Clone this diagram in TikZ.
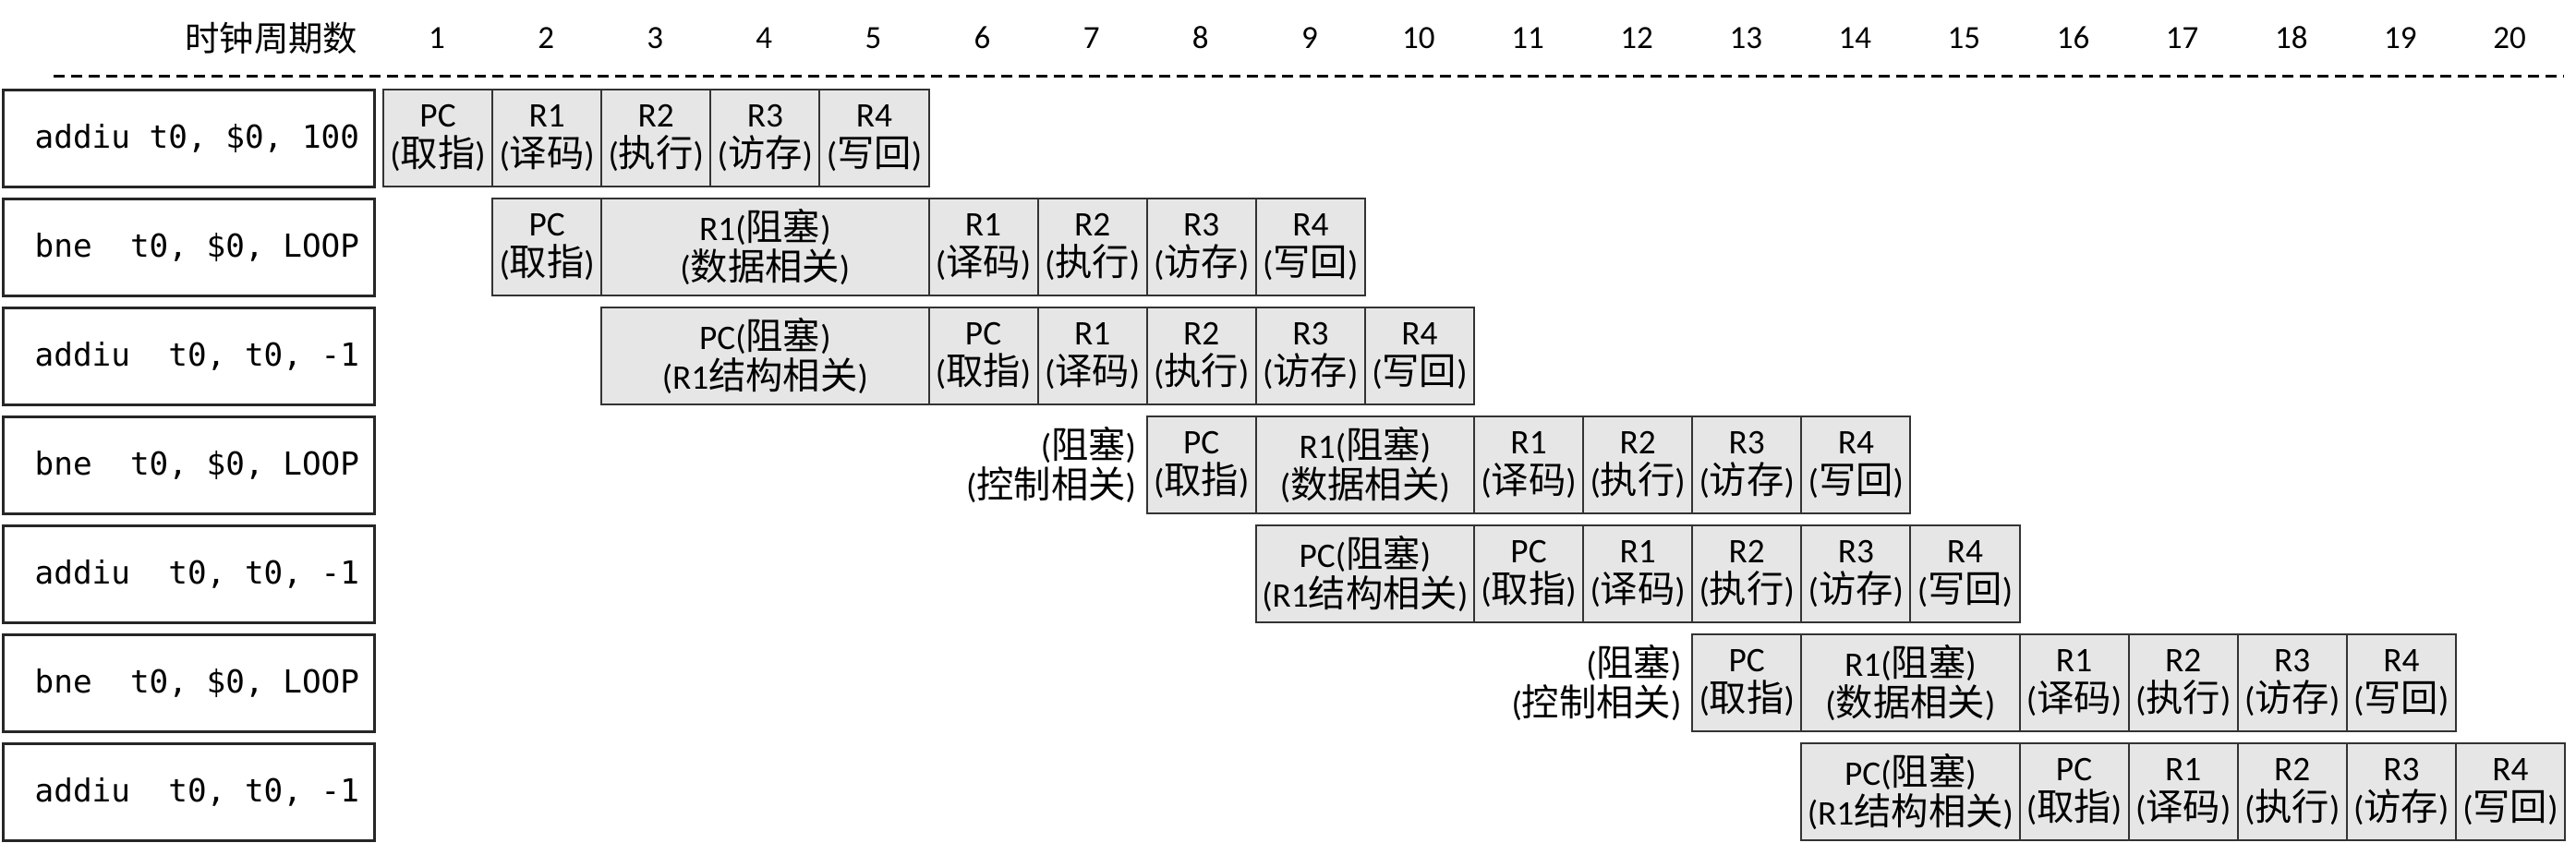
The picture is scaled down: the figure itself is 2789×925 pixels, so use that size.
\documentclass[tikz,border=0pt]{standalone}
\usepackage{fontspec}
\setmainfont{Carlito}
\setmonofont{DejaVu Sans Mono}
\newfontfamily\cjk[Scale=1.08]{Noto Sans CJK SC}
\newcommand\zh[1]{{\cjk #1}}
\definecolor{cellgray}{RGB}{231,230,230}
\tikzset{
  stagebox/.style={draw=black!80, line width=0.6pt, fill=cellgray, inner sep=0pt,
    minimum height=31.5pt, align=center, anchor=north west, font=\fontsize{11.2}{12.9}\selectfont},
  instrbox/.style={draw=black!85, line width=1pt, fill=white, inner sep=0pt,
    minimum width=120.6pt, minimum height=31.5pt, anchor=north west},
  instrtext/.style={font=\ttfamily\fontsize{10.3}{12}\selectfont\frenchspacing, anchor=west, inner sep=0pt},
  hdr/.style={font=\fontsize{10.5}{12}\selectfont, inner sep=0pt},
  stalllabel/.style={align=right, anchor=east, inner sep=0pt, font=\fontsize{11.2}{12.9}\selectfont},
  gridline/.style={line width=0.9pt, dash pattern=on 3.6pt off 2.1pt},
}
\newcommand\stg[5]{%
  \pgfmathsetmacro\stgx{414+118.1*(#3-1)}%
  \pgfmathsetmacro\stgy{96+118*(#2-1)}%
  \pgfmathsetmacro\stgw{35.43*#4}%
  \node[stagebox, minimum width=\stgw pt] (#1) at (\stgx,\stgy) {#5};}
\newcommand\sIF{PC\\(\zh{取指})}
\newcommand\sID{R1\\(\zh{译码})}
\newcommand\sEX{R2\\(\zh{执行})}
\newcommand\sMEM{R3\\(\zh{访存})}
\newcommand\sWB{R4\\(\zh{写回})}
\newcommand\sDH{R1(\zh{阻塞})\\(\zh{数据相关})}
\newcommand\sSH{PC(\zh{阻塞})\\(R1\zh{结构相关})}
\newcommand\instr[2]{%
  \pgfmathsetmacro\stgy{96+118*(#1-1)}%
  \node[instrbox] (i#1) at (2,\stgy) {};
  \node[instrtext] (t#1) at ([xshift=10.5pt]i#1.west) {#2};}
\begin{document}
\begin{tikzpicture}[x=0.3pt, y=-0.3pt]
\useasboundingbox (0,0) rectangle (2789,925);
% header
\node[hdr, anchor=east, font=\fontsize{10.4}{12}\selectfont] (title) at (388,41) {\zh{时钟周期数}};
\foreach \k in {1,...,20} \node[hdr] (h\k) at ({414+118.1*(\k-0.5)},41) {\k};
\coordinate (dl) at (58,82);
\coordinate (dr) at (2775,82);
\draw[gridline] (dl) -- (dr);
% instructions
\instr{1}{addiu t0, \$0, 100}
\instr{2}{bne~~t0, \$0, LOOP}
\instr{3}{addiu~~t0, t0, -1}
\instr{4}{bne~~t0, \$0, LOOP}
\instr{5}{addiu~~t0, t0, -1}
\instr{6}{bne~~t0, \$0, LOOP}
\instr{7}{addiu~~t0, t0, -1}
% row 1
\stg{r1c1}{1}{1}{1}{\sIF}
\stg{r1c2}{1}{2}{1}{\sID}
\stg{r1c3}{1}{3}{1}{\sEX}
\stg{r1c4}{1}{4}{1}{\sMEM}
\stg{r1c5}{1}{5}{1}{\sWB}
% row 2
\stg{r2c2}{2}{2}{1}{\sIF}
\stg{r2c3}{2}{3}{3}{\sDH}
\stg{r2c6}{2}{6}{1}{\sID}
\stg{r2c7}{2}{7}{1}{\sEX}
\stg{r2c8}{2}{8}{1}{\sMEM}
\stg{r2c9}{2}{9}{1}{\sWB}
% row 3
\stg{r3c3}{3}{3}{3}{\sSH}
\stg{r3c6}{3}{6}{1}{\sIF}
\stg{r3c7}{3}{7}{1}{\sID}
\stg{r3c8}{3}{8}{1}{\sEX}
\stg{r3c9}{3}{9}{1}{\sMEM}
\stg{r3c10}{3}{10}{1}{\sWB}
% row 4
\stg{r4c8}{4}{8}{1}{\sIF}
\stg{r4c9}{4}{9}{2}{\sDH}
\stg{r4c11}{4}{11}{1}{\sID}
\stg{r4c12}{4}{12}{1}{\sEX}
\stg{r4c13}{4}{13}{1}{\sMEM}
\stg{r4c14}{4}{14}{1}{\sWB}
\node[stalllabel] (l4) at ([xshift=-3pt]r4c8.west) {(\zh{阻塞})\\(\zh{控制相关})};
% row 5
\stg{r5c9}{5}{9}{2}{\sSH}
\stg{r5c11}{5}{11}{1}{\sIF}
\stg{r5c12}{5}{12}{1}{\sID}
\stg{r5c13}{5}{13}{1}{\sEX}
\stg{r5c14}{5}{14}{1}{\sMEM}
\stg{r5c15}{5}{15}{1}{\sWB}
% row 6
\stg{r6c13}{6}{13}{1}{\sIF}
\stg{r6c14}{6}{14}{2}{\sDH}
\stg{r6c16}{6}{16}{1}{\sID}
\stg{r6c17}{6}{17}{1}{\sEX}
\stg{r6c18}{6}{18}{1}{\sMEM}
\stg{r6c19}{6}{19}{1}{\sWB}
\node[stalllabel] (l6) at ([xshift=-3pt]r6c13.west) {(\zh{阻塞})\\(\zh{控制相关})};
% row 7
\stg{r7c14}{7}{14}{2}{\sSH}
\stg{r7c16}{7}{16}{1}{\sIF}
\stg{r7c17}{7}{17}{1}{\sID}
\stg{r7c18}{7}{18}{1}{\sEX}
\stg{r7c19}{7}{19}{1}{\sMEM}
\stg{r7c20}{7}{20}{1}{\sWB}
\end{tikzpicture}
\end{document}
